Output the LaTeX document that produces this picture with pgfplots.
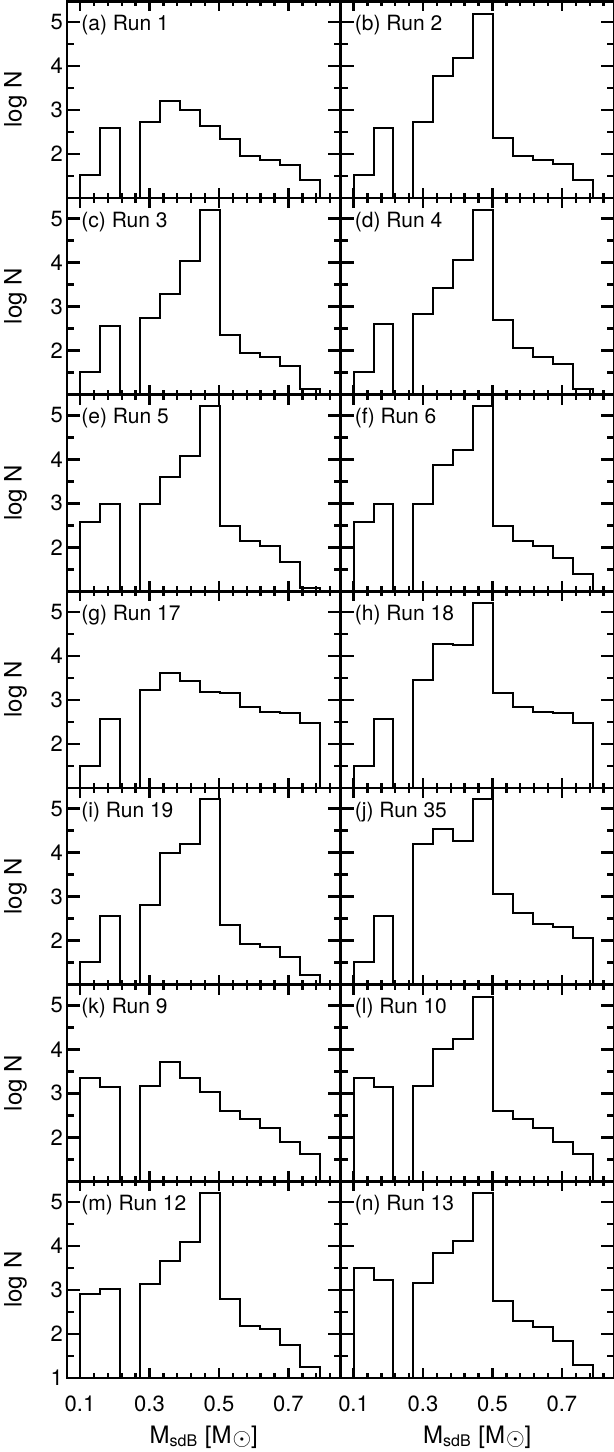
\documentclass[border=0pt]{standalone}
\usepackage{fontspec}
\setmainfont{TeX Gyre Heros}
\usepackage{pgfplots}
\usepackage{pgfplotstable}
\pgfplotsset{compat=1.18}
\usepgfplotslibrary{groupplots}

% log N per mass bin (bin 3 is empty); first row closes the outline at the axis
\pgfplotstableread{
x      a    b    c    d    e    f    g    h    i    j    k    l    m    n
0.1    1    1    1    1    1    1    1    1    1    1    1    1    1    1
0.1    1.52 1.52 1.52 1.52 2.58 2.58 1.51 1.51 1.51 1.51 3.35 3.35 2.92 3.49
0.1575 2.58 2.58 2.57 2.60 2.99 2.99 2.57 2.57 2.57 2.57 3.15 3.15 3.02 3.22
0.215  1    1    1    1    1    1    1    1    1    1    1    1    1    1
0.2725 2.73 2.73 2.75 2.84 2.99 2.99 3.23 3.45 2.80 4.20 3.17 3.17 3.14 3.15
0.33   3.20 3.78 3.28 3.43 3.59 3.88 3.61 4.27 3.99 4.53 3.72 4.00 3.66 3.84
0.3875 3.00 4.18 4.03 4.06 4.08 4.21 3.44 4.24 4.20 4.27 3.35 4.23 4.09 4.11
0.445  2.63 5.19 5.19 5.19 5.21 5.21 3.18 5.21 5.21 5.21 3.03 5.20 5.20 5.20
0.5025 2.35 2.37 2.35 2.69 2.48 2.48 3.15 3.15 2.35 3.05 2.59 2.59 2.79 2.74
0.56   1.95 1.96 1.94 2.05 2.14 2.14 2.83 2.83 1.92 2.63 2.42 2.42 2.18 2.29
0.6175 1.86 1.86 1.86 1.86 2.04 2.04 2.72 2.72 1.85 2.39 2.21 2.21 2.11 2.17
0.675  1.75 1.77 1.65 1.70 1.67 1.76 2.70 2.70 1.64 2.31 1.89 1.89 1.74 1.85
0.7325 1.41 1.41 1.13 1.13 1.07 1.39 2.47 2.47 1.21 2.05 1.63 1.63 1.26 1.30
0.79   1    1    1    1    1    1    1    1    1    1    1    1    1    1
}\hist

\pgfplotsset{
  panel/.style={
    scale only axis, width=136.75pt, height=98.33pt,
    xmin=0.0625, xmax=0.85, ymin=1, ymax=5.47,
    xtick={0.1,0.3,0.5,0.7},
    minor xtick={0.14,0.18,0.22,0.26,0.34,0.38,0.42,0.46,0.54,0.58,0.62,0.66,0.74,0.78,0.82},
    ytick={1,2,3,4,5}, minor ytick={1.5,2.5,3.5,4.5},
    tick align=inside, xtick pos=both, ytick pos=both,
    axis line style={line width=1.35pt},
    every tick/.style={black, line width=1.2pt},
    xtick style={/pgfplots/major tick length=5pt, /pgfplots/minor tick length=2.5pt},
    ytick style={/pgfplots/major tick length=6.5pt, /pgfplots/minor tick length=3.5pt},
    xticklabels={}, yticklabels={},
    tick label style={font=\fontsize{11}{13}\selectfont},
    xticklabel style={yshift=-5.5pt},
    yticklabel style={xshift=1.5pt},
    label style={font=\fontsize{12}{14}\selectfont},
    ylabel style={yshift=5pt},
  },
  lcol/.style={yticklabels={{},2,3,4,5}, ylabel={log N}},
  lbot/.style={yticklabels={1,2,3,4,5}, ylabel={log N}, bot},
  bot/.style={xticklabels={0.1,0.3,0.5,0.7},
    xlabel={M\textsubscript{sdB} [M\kern0.5pt\raisebox{-1.2pt}{$\odot$}]}},
}

\newcommand{\panel}[2]{%
  \addplot[const plot, line width=1pt, black] table[x=x, y=#1] {\hist};
  \node[anchor=west, inner sep=0.5pt, font=\fontsize{10.5}{12}\selectfont]
    at (axis cs:0.1,4.93) {#2};
}

\begin{document}
\begin{tikzpicture}
\begin{groupplot}[
  group style={group size=2 by 7, horizontal sep=0pt, vertical sep=0pt},
  panel,
]
\nextgroupplot[lcol] \panel{a}{(a) Run 1}
\nextgroupplot       \panel{b}{(b) Run 2}
\nextgroupplot[lcol] \panel{c}{(c) Run 3}
\nextgroupplot       \panel{d}{(d) Run 4}
\nextgroupplot[lcol] \panel{e}{(e) Run 5}
\nextgroupplot       \panel{f}{(f) Run 6}
\nextgroupplot[lcol] \panel{g}{(g) Run 17}
\nextgroupplot       \panel{h}{(h) Run 18}
\nextgroupplot[lcol] \panel{i}{(i) Run 19}
\nextgroupplot       \panel{j}{(j) Run 35}
\nextgroupplot[lcol] \panel{k}{(k) Run 9}
\nextgroupplot       \panel{l}{(l) Run 10}
\nextgroupplot[lbot] \panel{m}{(m) Run 12}
\nextgroupplot[bot]  \panel{n}{(n) Run 13}
\end{groupplot}
\pgfresetboundingbox
\path[use as bounding box]
  ([shift={(-33.5pt,0.65pt)}]group c1r1.north west)
  rectangle ([shift={(-0.5pt,-37pt)}]group c2r7.south east);
\end{tikzpicture}
\end{document}
